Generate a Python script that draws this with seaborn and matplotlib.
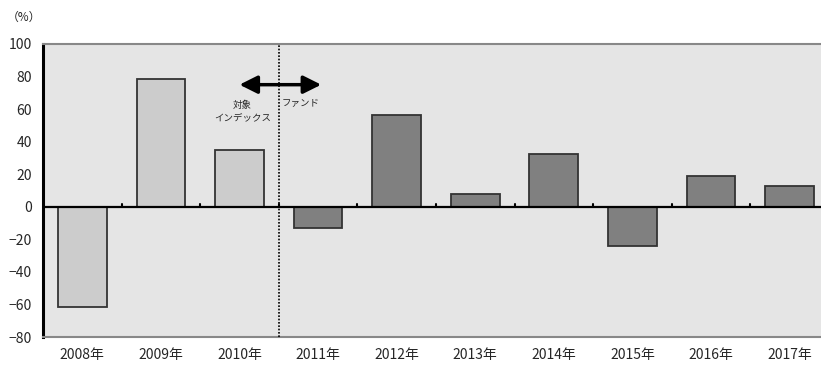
import numpy as np
import pandas as pd
import matplotlib
matplotlib.use("Agg")
import matplotlib.pyplot as plt
import seaborn as sns

years = ["2008年", "2009年", "2010年", "2011年", "2012年", "2013年", "2014年", "2015年", "2016年", "2017年"]
returns = [-61.3, 78.7, 34.6, -12.9, 56.6, 7.8, 32.4, -23.9, 18.8, 12.7]
groups = ["index", "index", "index", "fund", "fund", "fund", "fund", "fund", "fund", "fund"]
y_ticks = [-80, -60, -40, -20, 0, 20, 40, 60, 80, 100]

df = pd.DataFrame({"year": years, "ret": returns, "group": groups})

sns.set_theme(style="white")
plt.rcParams["font.family"] = ["Noto Sans CJK JP", "DejaVu Sans"]

fig = plt.figure(figsize=(8.21, 3.65), dpi=100)
ax = fig.add_axes([0.0524, 0.0767, 0.9476, 0.8028])
ax.set_facecolor("#e5e5e5")

sns.barplot(data=df, x="year", y="ret", hue="group", dodge=False, width=0.62,
            palette={"index": "#cccccc", "fund": "#808080"},
            edgecolor="#333333", linewidth=1.3, legend=False, ax=ax, zorder=2)

ax.set_xlim(-0.5, 9.4)
ax.set_ylim(-80, 100)
ax.set_yticks(y_ticks)
ax.set_xlabel("")
ax.set_ylabel("")

# zero line with small ticks between categories
ax.axhline(0, color="black", lw=1.6, zorder=3)
for b in np.arange(0.5, 9.5, 1.0):
    ax.plot([b, b], [0, 1.8], color="black", lw=1.5, zorder=3)

# boundary between index and fund
ax.axvline(2.5, color="black", lw=1.2, ls=(0, (1, 1)), zorder=3)
ax.annotate("", xy=(2.0, 75), xytext=(3.04, 75),
            arrowprops=dict(arrowstyle="<|-|>,head_length=0.9,head_width=0.45", color="black", lw=2.5, shrinkA=0, shrinkB=0),
            zorder=4)
ax.text(2.04, 58.5, "対象\nインデックス", ha="center", va="center", fontsize=6.8, linespacing=1.55)
ax.text(2.54, 63.5, "ファンド", ha="left", va="center", fontsize=6.8)

for s in ["top", "bottom"]:
    ax.spines[s].set_color("#888888")
    ax.spines[s].set_linewidth(1.5)
ax.spines["right"].set_visible(False)
ax.spines["left"].set_color("black")
ax.spines["left"].set_linewidth(2.2)

ax.tick_params(axis="y", direction="in", length=4, width=1.5, color="black", labelsize=10, pad=8)
ax.tick_params(axis="x", length=0, labelsize=10, pad=8)
ax.set_yticklabels([str(v).replace("-", "\u2212") for v in y_ticks])

fig.text(0.008, 0.953, "（%）", fontsize=8.5, ha="left", va="center")

fig.savefig("out.png", dpi=100, facecolor="white")
